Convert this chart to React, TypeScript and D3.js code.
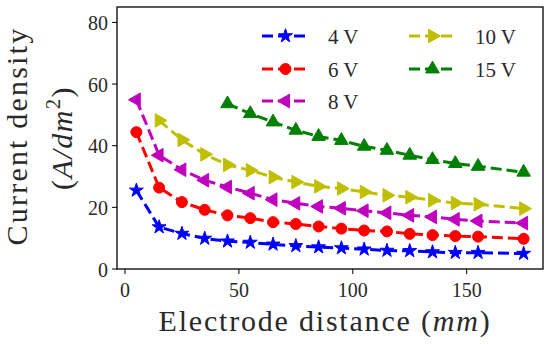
import { scaleLinear, line as d3line, symbol, symbolStar, symbolCircle, symbolTriangle } from "d3";

// electrode distance (mm)
const dist4 = [5, 15, 25, 35, 45, 55, 65, 75, 85, 95, 105, 115, 125, 135, 145, 155, 175];
const dist10 = [15, 25, 35, 45, 55, 65, 75, 85, 95, 105, 115, 125, 135, 145, 155, 175];
const dist15 = [45, 55, 65, 75, 85, 95, 105, 115, 125, 135, 145, 155, 175];

// current density (A/dm^2)
const v4 = [25.5, 13.6, 11.5, 9.9, 9.0, 8.6, 8.0, 7.5, 7.1, 6.8, 6.4, 6.0, 5.9, 5.5, 5.3, 5.3, 5.0];
const v6 = [44.4, 26.4, 21.7, 19.2, 17.4, 16.5, 15.2, 14.6, 13.8, 13.1, 12.5, 12.2, 11.4, 11.0, 10.7, 10.5, 9.8];
const v8 = [54.9, 36.9, 32.2, 28.8, 26.6, 24.6, 22.5, 21.3, 20.3, 19.7, 18.9, 18.2, 17.4, 16.9, 16.1, 15.6, 14.9];
const v10 = [48.2, 41.9, 37.2, 33.8, 32.0, 29.8, 28.2, 26.8, 26.1, 25.0, 23.9, 23.3, 22.3, 21.4, 21.0, 19.6];
const v15 = [53.6, 50.4, 47.7, 45.0, 43.0, 41.7, 39.8, 38.5, 36.9, 35.5, 34.2, 33.3, 31.4];

const labels = ["4 V", "6 V", "8 V", "10 V", "15 V"];
const xTicks = [0, 50, 100, 150];
const yTicks = [0, 20, 40, 60, 80];

const series = [
  { label: labels[0], xs: dist4, ys: v4, color: "#0000ff", marker: "star" },
  { label: labels[1], xs: dist4, ys: v6, color: "#ff0000", marker: "circle" },
  { label: labels[2], xs: dist4, ys: v8, color: "#bf00bf", marker: "left" },
  { label: labels[3], xs: dist10, ys: v10, color: "#bfbf00", marker: "right" },
  { label: labels[4], xs: dist15, ys: v15, color: "#008000", marker: "up" },
];

const W = 550;
const H = 344;
const m = { left: 117, right: 543, top: 7, bottom: 269 };
const FONT = "Liberation Serif, serif";

function Marker({ kind, x, y, color }: { kind: string; x: number; y: number; color: string }) {
  let d: string | null = null;
  let rot = 0;
  if (kind === "star") d = symbol(symbolStar, 60)();
  else if (kind === "circle") d = symbol(symbolCircle, 95)();
  else {
    d = symbol(symbolTriangle, 80)();
    rot = kind === "left" ? -90 : kind === "right" ? 90 : 0;
  }
  return (
    <path
      d={d ?? undefined}
      transform={`translate(${x},${y}) rotate(${rot})`}
      fill={color}
      stroke={color}
      strokeWidth={1}
    />
  );
}

export default function App() {
  const x = scaleLinear().domain([-3.5, 183.5]).range([m.left, m.right]);
  const y = scaleLinear().domain([0, 85]).range([m.bottom, m.top]);

  const line = d3line<[number, number]>()
    .x((d) => x(d[0]))
    .y((d) => y(d[1]));

  const legendPos = [
    { lx: 262, ly: 36 },
    { lx: 262, ly: 69 },
    { lx: 262, ly: 101 },
    { lx: 409, ly: 36 },
    { lx: 409, ly: 69 },
  ];

  const txt = { fontFamily: FONT };

  return (
    <svg
      width={W}
      height={H}
      style={{ position: "absolute", left: 0, top: 0, background: "#fff" }}
    >
      {/* Series */}
      {series.map((s) => {
        const pts = s.xs.map((xv, i) => [xv, s.ys[i]] as [number, number]);
        return (
          <g key={s.label}>
            <path
              d={line(pts) ?? undefined}
              fill="none"
              stroke={s.color}
              strokeWidth={3}
              strokeDasharray="11,5"
            />
            {pts.map((p, i) => (
              <Marker key={i} kind={s.marker} x={x(p[0])} y={y(p[1])} color={s.color} />
            ))}
          </g>
        );
      })}

      {/* Frame */}
      <rect
        x={m.left}
        y={m.top}
        width={m.right - m.left}
        height={m.bottom - m.top}
        fill="none"
        stroke="#000"
        strokeWidth={1.3}
      />

      {/* X axis ticks */}
      {xTicks.map((t) => (
        <g key={t}>
          <line x1={x(t)} x2={x(t)} y1={m.bottom} y2={m.bottom + 5} stroke="#000" strokeWidth={1} />
          <text x={x(t)} y={297} textAnchor="middle" fontSize={20} fill="#2a2a2a" style={txt}>
            {t}
          </text>
        </g>
      ))}

      {/* Y axis ticks */}
      {yTicks.map((t) => (
        <g key={t}>
          <line x1={m.left - 5} x2={m.left} y1={y(t)} y2={y(t)} stroke="#000" strokeWidth={1} />
          <text x={108} y={y(t) + 7.5} textAnchor="end" fontSize={20} fill="#2a2a2a" style={txt}>
            {t}
          </text>
        </g>
      ))}

      {/* Axis labels */}
      <text
        x={(m.left + m.right) / 2 - 5}
        y={331}
        textAnchor="middle"
        fontSize={30}
        letterSpacing={1.8}
        fill="#2a2a2a"
        style={txt}
      >
        Electrode distance (<tspan fontStyle="italic">mm</tspan>)
      </text>
      <g transform="translate(27,136) rotate(-90)">
        <text textAnchor="middle" fontSize={30} letterSpacing={2.2} fill="#2a2a2a" style={txt}>
          Current density
        </text>
      </g>
      <g transform="translate(72,138) rotate(-90)">
        <text textAnchor="middle" fontSize={30} letterSpacing={1.5} fill="#2a2a2a" style={txt}>
          (<tspan fontStyle="italic">A/dm</tspan>
          <tspan fontSize={20} dy={-12}>2</tspan>
          <tspan dy={12}>)</tspan>
        </text>
      </g>

      {/* Legend */}
      {series.map((s, i) => {
        const { lx, ly } = legendPos[i];
        return (
          <g key={s.label}>
            <line
              x1={lx}
              x2={lx + 47}
              y1={ly}
              y2={ly}
              stroke={s.color}
              strokeWidth={3}
              strokeDasharray="11,5"
            />
            <Marker kind={s.marker} x={lx + 23.5} y={ly} color={s.color} />
            <text x={lx + 66} y={ly + 8} fontSize={21} fill="#2a2a2a" style={txt}>
              {s.label}
            </text>
          </g>
        );
      })}
    </svg>
  );
}
